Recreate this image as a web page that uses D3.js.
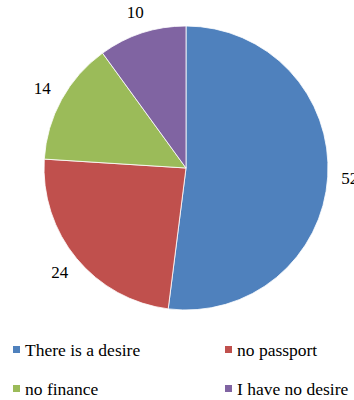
<!DOCTYPE html>
<html>
<head>
<meta charset="utf-8">
<script src="https://cdn.jsdelivr.net/npm/d3@7"></script>
<style>
  html, body { margin: 0; padding: 0; background: #fff; }
  svg { display: block; }
</style>
</head>
<body>
<svg id="chart" width="354" height="400"></svg>
<script>
// Reasons for (not) travelling abroad, shares in percent
const categories = ["There is a desire", "no passport", "no finance", "I have no desire"];
const values = [52, 24, 14, 10];
const colors = ["#4F81BD", "#C0504D", "#9BBB59", "#8064A2"];

const fontFamily = "Liberation Serif";

const svg = d3.select("#chart");
const cx = 186, cy = 168, radius = 142, labelRadius = 164;

const pie = d3.pie().sort(null).value(d => d.value);
const arcs = pie(categories.map((c, i) => ({ name: c, value: values[i], color: colors[i] })));

const arc = d3.arc().innerRadius(0).outerRadius(radius);
const labelArc = d3.arc().innerRadius(labelRadius).outerRadius(labelRadius);

const g = svg.append("g").attr("transform", `translate(${cx},${cy})`);

g.selectAll("path.slice")
  .data(arcs)
  .join("path")
  .attr("class", "slice")
  .attr("d", arc)
  .attr("fill", d => d.data.color)
  .attr("stroke", "#fff")
  .attr("stroke-width", 0.8);

g.selectAll("text.value")
  .data(arcs)
  .join("text")
  .attr("class", "value")
  .attr("transform", d => `translate(${labelArc.centroid(d)})`)
  .attr("text-anchor", "middle")
  .attr("dominant-baseline", "central")
  .style("font-family", fontFamily)
  .style("font-size", "17px")
  .attr("fill", "#000")
  .text(d => d.data.value);

// Legend: two columns, two rows
const legendX = [13, 225], legendY = [350, 389];
const legend = svg.selectAll("g.legend")
  .data(categories)
  .join("g")
  .attr("class", "legend")
  .attr("transform", (d, i) => `translate(${legendX[i % 2]},${legendY[Math.floor(i / 2)]})`);

legend.append("rect")
  .attr("x", 0).attr("y", -4)
  .attr("width", 7).attr("height", 7)
  .attr("fill", (d, i) => colors[i]);

legend.append("text")
  .attr("x", 12)
  .attr("y", 0)
  .attr("dominant-baseline", "central")
  .style("font-family", fontFamily)
  .style("font-size", "17.5px")
  .attr("fill", "#000")
  .text(d => d);
</script>
</body>
</html>
